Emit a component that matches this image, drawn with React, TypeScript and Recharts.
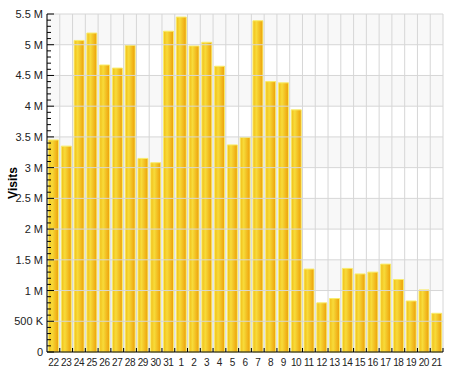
import { BarChart, Bar, XAxis, YAxis, ReferenceLine, ReferenceArea } from 'recharts';

const days = ['22', '23', '24', '25', '26', '27', '28', '29', '30', '31', '1', '2', '3', '4', '5', '6', '7', '8', '9', '10', '11', '12', '13', '14', '15', '16', '17', '18', '19', '20', '21'];
const visits = [3450000, 3350000, 5070000, 5190000, 4670000, 4620000, 4990000, 3150000, 3080000, 5220000, 5450000, 4980000, 5040000, 4650000, 3370000, 3490000, 5390000, 4400000, 4380000, 3940000, 1350000, 800000, 870000, 1360000, 1270000, 1300000, 1430000, 1180000, 830000, 1010000, 630000];
const majorTicks = [0, 500000, 1000000, 1500000, 2000000, 2500000, 3000000, 3500000, 4000000, 4500000, 5000000, 5500000];
const minorTicks = Array.from({ length: 56 }, (_, i) => i * 100000);

const data = days.map((d, i) => ({ day: d, visits: visits[i] }));

const fmt = (v: number) => {
  if (v === 0) return '0';
  if (v < 1000000) return `${v / 1000} K`;
  return `${v / 1000000} M`;
};

const font = 'Arial, "Liberation Sans", sans-serif';

const YTick = ({ x, y, payload }: any) => {
  const v = payload.value;
  const major = v % 500000 === 0;
  const ax = x + 4;
  return (
    <g>
      <line x1={ax} x2={ax + (major ? 7 : 4)} y1={y} y2={y} stroke="#000" strokeWidth={1} />
      {major && (
        <text x={x} y={y} dy={4} textAnchor="end" fontSize={11} fontFamily={font} fill="#222">{fmt(v)}</text>
      )}
    </g>
  );
};

const XTick = ({ x, y, payload }: any) => {
  const half = payload.offset || 6.4;
  const ay = y - 8;
  return (
    <g>
      <line x1={x + half} x2={x + half} y1={ay} y2={ay - 4} stroke="#000" strokeWidth={1} />
      <text x={x} y={ay + 14} textAnchor="middle" fontSize={10} letterSpacing={-0.4} fontFamily={font} fill="#222">{payload.value}</text>
    </g>
  );
};

export default function App() {
  return (
    <div style={{ position: 'absolute', left: 0, top: 0, width: 450, height: 379, background: '#fff' }}>
      <BarChart width={450} height={379} data={data} margin={{ top: 14, right: 7, left: 0, bottom: 7 }} barCategoryGap="12%">
        <defs>
          <linearGradient id="gold" x1="0" y1="0" x2="1" y2="0">
            <stop offset="0%" stopColor="#f2bd16" />
            <stop offset="35%" stopColor="#f7db3a" />
            <stop offset="100%" stopColor="#ed9f08" />
          </linearGradient>
        </defs>
        {majorTicks.slice(0, -1).map((t, i) => (
          <ReferenceArea key={'a' + t} y1={t} y2={majorTicks[i + 1]} fill={i % 2 === 0 ? '#f8f8f8' : '#ffffff'} fillOpacity={1} stroke="none" ifOverflow="visible" />
        ))}
        {majorTicks.slice(1).map(t => (
          <ReferenceLine key={'h' + t} y={t} stroke="#d6d6d6" strokeWidth={1} />
        ))}
        {days.map(d => (
          <ReferenceLine key={'v' + d} x={d} position="start" stroke="#d6d6d6" strokeWidth={1} />
        ))}
        <ReferenceLine x={days[days.length - 1]} position="end" stroke="#d6d6d6" strokeWidth={1} />
        <XAxis dataKey="day" height={20} interval={0} tickSize={0} tickMargin={8} tickLine={false} axisLine={{ stroke: '#000' }} tick={<XTick />} />
        <YAxis
          width={47}
          domain={[0, 5500000]}
          ticks={minorTicks}
          interval={0}
          tickSize={0}
          tickMargin={4}
          tickLine={false}
          axisLine={{ stroke: '#000' }}
          tick={<YTick />}
          label={{ value: 'Visits', angle: -90, position: 'insideLeft', offset: 13, style: { fontFamily: font, fontSize: 12, fontWeight: 'bold', fill: '#000', textAnchor: 'middle' } }}
        />
        <Bar dataKey="visits" fill="url(#gold)" stroke="#f8ec6a" strokeWidth={1} isAnimationActive={false} />
      </BarChart>
    </div>
  );
}
